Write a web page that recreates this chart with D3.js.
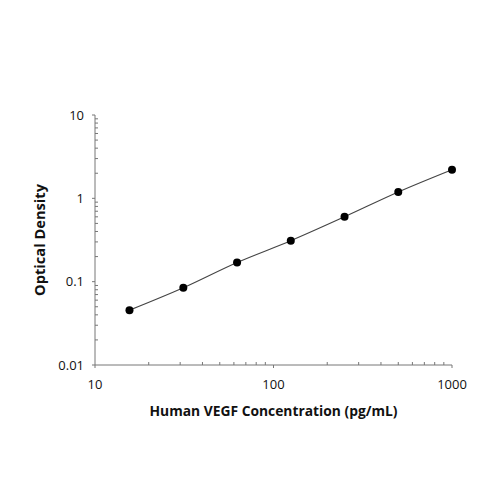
<!DOCTYPE html>
<html><head><meta charset="utf-8">
<script src="https://cdn.jsdelivr.net/npm/d3@7"></script>
<style>body{margin:0;background:#fff}svg{display:block}text{font-family:"Open Sans","Noto Sans",sans-serif}</style>
</head><body>
<svg id="c" width="500" height="500"></svg>
<script>
const concentrations = [15.6, 31.25, 62.5, 125, 250, 500, 1000];
const opticalDensity = [0.0455, 0.0845, 0.17, 0.31, 0.60, 1.19, 2.2];
const xTickValues = [10, 100, 1000];
const yTickValues = [0.01, 0.1, 1, 10];
const xTickLabels = ["10", "100", "1000"];
const yTickLabels = ["0.01", "0.1", "1", "10"];
const xTitle = "Human VEGF Concentration (pg/mL)";
const yTitle = "Optical Density";

const svg = d3.select("#c");
const x = d3.scaleLog().domain([10, 1000]).range([95, 452]);
const y = d3.scaleLog().domain([0.01, 10]).range([365, 115]);
const axisColor = "#777";

function minorTicks(lo, hi) {
  const out = [];
  for (let d = lo; d < hi; d *= 10) for (let k = 2; k <= 9; k++) out.push(d * k);
  return out;
}

// X axis
const gx = svg.append("g");
gx.append("line").attr("x1", x(10)).attr("x2", x(1000)).attr("y1", y(0.01)).attr("y2", y(0.01))
  .attr("stroke", axisColor).attr("stroke-width", 1);
gx.selectAll(".xmaj").data(xTickValues).join("line")
  .attr("x1", d => x(d)).attr("x2", d => x(d)).attr("y1", y(0.01)).attr("y2", y(0.01) + 3)
  .attr("stroke", axisColor);
gx.selectAll(".xmin").data(minorTicks(10, 1000)).join("line")
  .attr("x1", d => x(d)).attr("x2", d => x(d)).attr("y1", y(0.01)).attr("y2", y(0.01) - 3)
  .attr("stroke", axisColor);
gx.selectAll(".xl").data(xTickValues).join("text")
  .attr("x", d => x(d)).attr("y", y(0.01) + 24).attr("text-anchor", "middle")
  .attr("font-size", 13).attr("fill", "#111").text((d, i) => xTickLabels[i]);

// Y axis
const gy = svg.append("g");
gy.append("line").attr("x1", x(10)).attr("x2", x(10)).attr("y1", y(0.01)).attr("y2", y(10))
  .attr("stroke", axisColor).attr("stroke-width", 1);
gy.selectAll(".ymaj").data(yTickValues).join("line")
  .attr("x1", x(10) - 3).attr("x2", x(10)).attr("y1", d => y(d)).attr("y2", d => y(d))
  .attr("stroke", axisColor);
gy.selectAll(".ymin").data(minorTicks(0.01, 10)).join("line")
  .attr("x1", x(10)).attr("x2", x(10) + 3).attr("y1", d => y(d)).attr("y2", d => y(d))
  .attr("stroke", axisColor);
gy.selectAll(".yl").data(yTickValues).join("text")
  .attr("x", x(10) - 11).attr("y", d => y(d) + 4.5).attr("text-anchor", "end")
  .attr("font-size", 13).attr("fill", "#111").text((d, i) => yTickLabels[i]);

// Titles
svg.append("text").attr("x", (x(10) + x(1000)) / 2).attr("y", 416).attr("text-anchor", "middle")
  .attr("font-size", 14).attr("font-weight", "bold").attr("fill", "#111")
  .attr("textLength", 248).attr("lengthAdjust", "spacingAndGlyphs").text(xTitle);
svg.append("text").attr("transform", `translate(45,${(y(0.01) + y(10)) / 2}) rotate(-90)`)
  .attr("text-anchor", "middle").attr("font-size", 14).attr("font-weight", "bold").attr("fill", "#111")
  .attr("textLength", 112).attr("lengthAdjust", "spacingAndGlyphs").text(yTitle);

// Curve
const pts = concentrations.map((c, i) => [c, opticalDensity[i]]);
svg.append("path").datum(pts)
  .attr("d", d3.line().x(d => x(d[0])).y(d => y(d[1])).curve(d3.curveMonotoneX))
  .attr("fill", "none").attr("stroke", "#444").attr("stroke-width", 1.1);

// Points
svg.selectAll(".pt").data(pts).join("circle")
  .attr("cx", d => x(d[0])).attr("cy", d => y(d[1])).attr("r", 4).attr("fill", "#000");
</script>
</body></html>
